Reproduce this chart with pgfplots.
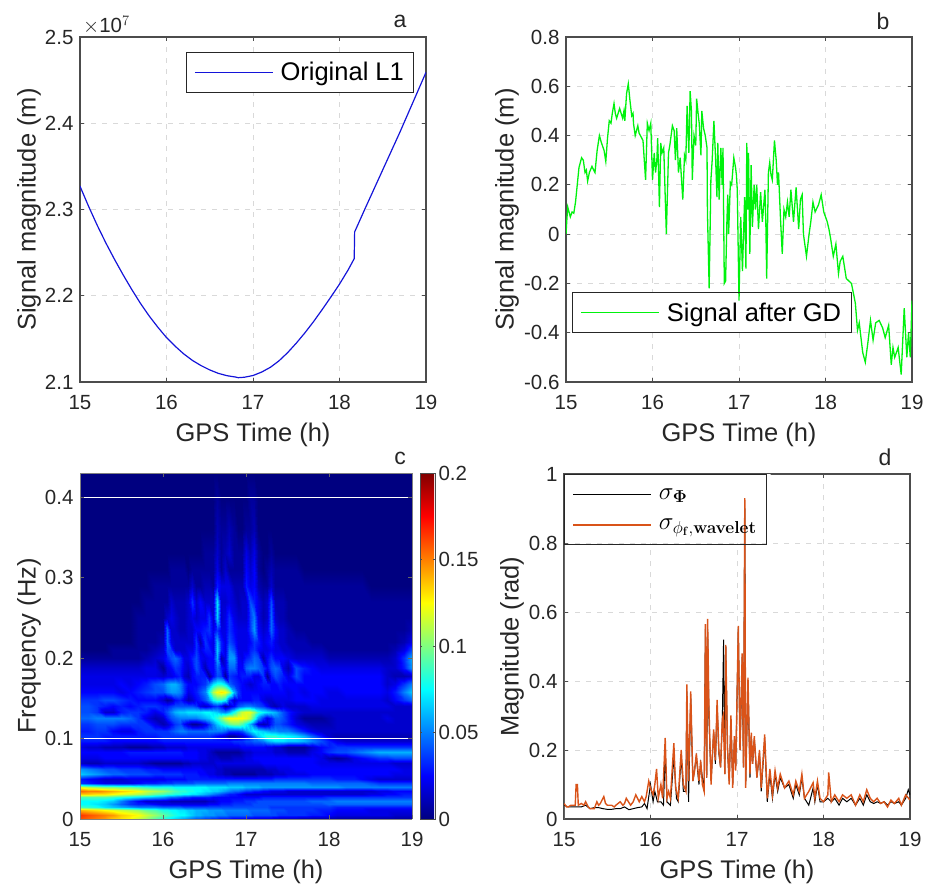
\documentclass[border=0pt]{standalone}
\usepackage[no-math]{fontspec}
\usepackage{pgfplots}
\usepackage{pgfplotstable}
\pgfplotsset{compat=1.18}
\setmainfont{Liberation Sans}
\definecolor{txt}{gray}{0.15}
\definecolor{frame}{gray}{0.3}
\definecolor{mlorange}{rgb}{0.85,0.325,0.098}
\newcommand\ticksize{\fontsize{20.5}{24}\selectfont}
\newcommand\labsize{\fontsize{25.5}{29}\selectfont}
\newcommand\panelsize{\fontsize{23}{26}\selectfont}
% wavelet power in units of 0.005; rows = frequency (Hz), columns = GPS time (h)
\pgfplotstableread{
y 15 15.1 15.2 15.3 15.4 15.5 15.6 15.7 15.8 15.9 16 16.05 16.1 16.15 16.2 16.25 16.3 16.35 16.4 16.45 16.5 16.55 16.6 16.65 16.7 16.75 16.8 16.85 16.9 16.95 17 17.05 17.1 17.15 17.2 17.25 17.3 17.35 17.4 17.45 17.5 17.6 17.7 17.8 17.9 18 18.1 18.2 18.3 18.4 18.5 18.6 18.7 18.8 18.9 19
0     32 31 30 29 27 26 25 23 21 18  16 15 14 13 12 11 10 9 8 8  7 7 6 6 5 5 5 4 4 4  4 3 3 3 3 3 3 2 2 2  2 2 1 1 1 1 1 1 1 1 1 1 1 1 1 1
0.005 33 32 31 30 29 27 26 25 23 21  19 18 17 16 15 15 14 13 12 12  11 11 11 10 10 10 9 9 9 9  9 9 8 8 8 8 8 8 7 7  7 7 7 6 6 5 4 4 4 4 4 4 4 3 3 3
0.011 28 27 26 25 24 23 22 21 19 18  16 16 15 15 14 14 13 13 12 12  12 11 11 11 11 10 10 10 10 10  10 9 9 9 9 9 8 8 8 8  7 7 7 7 6 6 5 5 5 5 4 4 4 4 4 4
0.015 18 17 16 14 13 12 11 10 10 10  9 9 9 9 9 8 8 8 8 8  8 8 8 8 8 8 8 8 8 8  8 8 8 8 8 8 7 7 7 7  7 7 7 7 7 7 6 6 6 6 6 6 6 6 6 6
0.019 15 15 14 13 11 9 7 6 6 5  4 4 4 4 4 4 4 4 4 4  4 5 5 5 6 6 6 7 7 7  7 7 8 8 8 8 8 8 8 8  8 8 8 8 8 9 9 9 9 9 9 9 9 9 9 9
0.023 15 15 15 14 13 10 7 5 3 3  3 3 2 2 2 2 2 2 2 2  2 3 3 4 5 5 5 6 6 6  7 7 7 8 8 8 8 8 8 8  8 8 8 9 9 9 10 10 10 10 10 10 10 10 10 10
0.027 18 18 18 18 17 16 15 14 13 12  11 10 9 9 8 7 7 6 6 6  6 6 5 5 5 5 5 5 5 5  5 5 5 5 6 6 6 6 6 6  6 6 6 6 6 7 7 7 7 7 7 7 7 7 7 7
0.031 27 27 26 26 25 24 23 22 21 19  18 17 17 16 16 15 15 14 14 13  12 11 10 9 8 7 6 6 5 4  3 3 3 3 3 3 3 3 3 3  3 3 3 3 3 3 3 3 3 3 4 4 5 5 6 6
0.035 31 30 30 29 28 27 26 25 23 22  21 20 19 18 17 17 16 16 15 15  14 14 13 13 12 11 10 9 9 8  7 7 6 6 5 5 4 4 4 4  3 3 3 3 3 3 3 3 3 3 3 4 4 5 5 5
0.04 24 22 21 20 20 19 19 18 17 16  16 16 16 15 15 15 15 15 15 15  15 14 14 14 14 14 13 13 13 13  12 12 12 12 11 11 11 11 11 11  11 11 11 11 11 11 11 10 10 10 10 10 10 10 10 10
0.045 7 6 5 4 4 4 4 5 6 6  7 7 7 8 8 8 8 8 9 9  9 9 9 9 9 9 10 10 10 10  10 10 10 10 10 10 10 10 10 10  10 10 10 9 9 9 9 9 9 9 8 7 7 7 7 7
0.05 6 5 4 3 3 3 4 4 4 4  4 5 5 5 5 5 6 6 6 6  6 6 6 6 6 6 6 6 6 6  6 6 6 6 6 6 6 7 7 7  7 7 7 7 7 7 6 6 6 5 4 3 3 3 3 3
0.056 13 12 11 10 9 9 8 8 8 7  7 7 7 7 7 6 6 6 6 5  5 4 4 3 3 2 2 1 1 1  1 1 1 2 2 2 2 3 3 3  4 4 4 5 5 5 5 5 5 5 5 5 5 4 4 4
0.062 11 10 9 8 8 7 7 7 6 6  5 5 5 5 5 5 5 5 5 5  4 4 4 3 3 2 2 2 2 2  2 2 2 2 2 3 3 3 4 4  4 5 5 5 5 5 5 5 5 5 5 5 5 5 4 4
0.069 3 2 2 3 3 3 3 3 2 1  1 1 1 1 1 2 2 3 3 3  3 3 3 4 4 4 4 4 4 4  4 4 4 4 5 5 5 5 5 5  5 5 5 5 4 4 4 4 4 4 4 4 4 3 3 3
0.076 4 4 4 5 5 5 5 5 5 5  5 5 5 5 5 5 5 5 5 4  4 3 3 3 2 2 2 3 3 3  4 4 5 5 5 5 5 5 5 5  5 5 5 5 4 2 1 2 4 5 6 7 7 8 8 8
0.083 5 5 5 5 5 5 6 6 6 6  6 6 6 6 6 5 5 5 5 4  4 3 2 1 1 1 1 1 1 2  3 3 4 4 4 4 4 3 3 3  2 2 2 4 5 7 8 8 9 10 11 12 12 12 12 12
0.09 4 3 3 2 2 2 1 1 1 2  2 3 3 3 3 3 4 4 4 4  4 4 4 4 4 4 4 4 4 5  5 5 5 5 5 4 4 3 3 2  1 1 1 3 5 6 7 7 7 7 7 7 7 7 7 7
0.097 6 6 6 6 5 5 5 5 5 5  6 6 6 6 6 6 6 6 6 6  6 6 6 6 6 6 6 7 7 7  8 8 9 9 10 12 13 14 14 14  13 13 12 10 8 6 4 3 3 3 3 3 3 3 3 3
0.103 7 7 7 6 6 6 6 6 6 6  7 7 7 7 7 7 7 7 7 7  7 7 6 5 4 3 1 1 2 3  5 7 10 13 15 17 17 17 16 16  15 14 12 9 6 3 2 2 2 2 2 2 2 2 2 2
0.11 6 6 7 7 5 4 4 6 7 7  7 7 8 9 10 10 9 9 9 9  9 10 10 10 10 9 7 7 7 8  11 13 15 14 13 12 11 11 10 10  10 8 6 4 3 3 3 3 3 3 3 3 3 3 3 3
0.118 7 7 8 8 8 7 7 7 7 4  2 3 5 7 8 5 3 1 1 2  4 7 10 13 15 17 19 20 20 18  15 12 8 3 2 3 6 8 8 7  6 4 3 2 2 2 3 3 3 3 3 3 3 3 3 3
0.125 9 9 10 10 10 10 9 7 4 2  3 6 8 9 10 10 10 10 10 11  12 13 15 17 20 23 25 25 25 25  24 22 17 11 7 4 6 9 9 8  6 3 1 1 1 2 3 3 3 3 3 3 4 3 3 3
0.133 8 8 7 3 3 6 7 7 6 4  6 8 10 12 13 13 14 14 14 14  15 15 14 13 11 10 12 16 20 23  24 24 21 17 15 14 13 12 10 8  6 4 3 3 3 3 3 3 3 3 3 3 3 3 3 3
0.14 8 8 7 6 5 6 5 6 7 7  6 6 7 8 8 8 8 8 7 4  3 4 6 7 5 1 3 5 8 9  10 10 9 8 7 5 3 2 3 4  3 3 3 4 4 4 4 4 4 4 4 4 4 3 3 3
0.148 7 7 7 8 8 7 6 5 5 5  3 1 2 5 6 4 2 3 5 6  8 11 15 17 17 15 7 3 5 5  5 5 6 6 4 3 3 4 4 4  4 5 5 5 4 4 4 4 4 4 4 4 3 5 7 9
0.158 5 5 5 5 5 4 5 6 7 8  8 10 11 11 10 7 4 5 6 8  10 16 22 25 26 25 21 12 7 5  5 5 5 5 5 5 5 5 5 5  4 5 4 5 5 4 4 5 5 5 5 5 4 6 10 13
0.168 4 4 4 4 4 5 4 5 6 8  9 11 12 12 10 7 5 5 5 6  7 10 14 16 16 14 9 7 6 5  4 3 4 5 6 6 5 5 6 5  5 5 5 5 5 5 5 5 5 5 5 5 3 4 7 10
0.178 4 4 4 4 4 4 4 4 4 4  3 4 4 5 6 3 2 5 6 6  6 1 5 8 7 1 7 6 5 6  6 6 4 4 7 1 6 8 7 6  4 8 5 5 5 5 5 5 5 5 5 5 3 2 2 3
0.188 3 3 3 3 3 3 3 3 4 4  1 4 5 7 6 4 3 5 8 6  2 5 5 9 6 4 9 9 5 5  9 10 10 9 7 5 8 9 8 4  2 8 6 5 4 4 4 4 4 4 4 4 3 3 6 11
0.2 1 1 1 1 1 1 1 1 2 3  4 6 8 9 7 4 4 6 8 5  4 5 5 12 2 4 11 11 5 4  6 7 9 8 2 5 7 5 5 5  4 3 3 3 3 2 2 2 2 2 2 2 2 3 7 12
0.21 0 0 0 0 1 1 1 1 1 2  3 8 7 3 3 3 4 4 7 4  6 6 4 13 6 4 10 8 4 4  4 6 7 5 4 4 5 4 4 3  3 2 2 2 2 1 1 1 1 1 1 1 1 2 4 8
0.22 0 0 0 0 0 0 0 1 1 1  2 9 4 3 3 3 3 3 7 2  7 5 4 12 6 4 8 6 4 4  4 5 7 6 4 5 6 4 3 3  2 2 2 1 1 1 1 1 1 1 1 1 1 1 2 4
0.235 0 0 0 0 0 0 0 1 1 1  1 9 3 3 2 2 3 3 5 5  6 7 4 7 4 4 7 5 4 4  4 7 11 5 3 4 9 5 3 3  2 1 1 1 1 1 1 1 1 1 1 1 1 1 1 2
0.25 0 0 0 0 0 0 0 1 1 1  1 3 4 3 2 2 3 4 3 4  4 7 3 13 3 4 7 4 3 3  3 7 10 4 2 3 9 3 2 2  1 1 1 1 1 1 1 1 1 1 1 1 1 1 1 1
0.27 0 0 0 0 0 0 0 0 1 1  1 1 3 2 2 2 3 7 3 5  3 3 3 14 3 3 4 3 2 3  3 8 6 4 2 3 8 2 2 2  1 1 1 1 1 1 1 1 1 1 1 1 1 1 1 1
0.29 0 0 0 0 0 0 0 0 0 1  1 1 1 1 1 1 1 3 1 1  2 2 1 6 4 4 4 2 2 2  6 4 5 2 1 1 3 1 1 1  1 1 1 1 1 1 1 1 1 1 0 0 0 0 0 0
0.31 0 0 0 0 0 0 0 0 0 0  0 0 1 1 1 1 0 1 1 1  1 1 1 4 1 3 1 1 1 1  5 3 5 1 0 1 2 1 1 1  1 1 0 0 0 0 0 0 0 0 0 0 0 0 0 0
0.33 0 0 0 0 0 0 0 0 0 0  0 0 0 0 0 0 0 0 0 0  1 1 1 3 1 2 3 1 1 1  4 2 4 1 0 0 1 0 0 0  0 0 0 0 0 0 0 0 0 0 0 0 0 0 0 0
0.36 0 0 0 0 0 0 0 0 0 0  0 0 0 0 0 0 0 0 0 0  0 0 0 2 1 1 2 1 0 0  1 1 2 0 0 0 0 0 0 0  0 0 0 0 0 0 0 0 0 0 0 0 0 0 0 0
0.4 0 0 0 0 0 0 0 0 0 0  0 0 0 0 0 0 0 0 0 0  0 0 0 1 0 0 0 0 0 0  0 1 1 0 0 0 0 0 0 0  0 0 0 0 0 0 0 0 0 0 0 0 0 0 0 0
0.43 0 0 0 0 0 0 0 0 0 0  0 0 0 0 0 0 0 0 0 0  0 0 0 0 0 0 0 0 0 0  0 0 0 0 0 0 0 0 0 0  0 0 0 0 0 0 0 0 0 0 0 0 0 0 0 0
}\heat
\newcommand\heatcoords{}
\pgfplotstablegetrowsof{\heat}\edef\nr{\pgfplotsretval}
\pgfmathtruncatemacro\rlast{\nr-1}
\pgfplotsforeachungrouped \r in {0,...,\rlast}{%
 \pgfplotstablegetelem{\r}{y}\of\heat \edef\yy{\pgfplotsretval}%
 \pgfplotsforeachungrouped \xx in {15,15.1,15.2,15.3,15.4,15.5,15.6,15.7,15.8,15.9,16,16.05,16.1,16.15,16.2,16.25,16.3,16.35,16.4,16.45,16.5,16.55,16.6,16.65,16.7,16.75,16.8,16.85,16.9,16.95,17,17.05,17.1,17.15,17.2,17.25,17.3,17.35,17.4,17.45,17.5,17.6,17.7,17.8,17.9,18,18.1,18.2,18.3,18.4,18.5,18.6,18.7,18.8,18.9,19}{%
  \pgfplotstablegetelem{\r}{\xx}\of\heat \edef\zz{\pgfplotsretval}%
  \xdef\heatcoords{\heatcoords (\xx,\yy,\zz)}%
 }%
}
\pgfplotsset{
 myax/.style={
  scale only axis,
  xmin=15,xmax=19,
  xtick={15,16,17,18,19},xticklabels={15,16,17,18,19},
  tick align=inside,major tick length=4pt,minor tick num=0,
  axis line style={draw=frame,line width=1.1pt},
  tick style={draw=frame,line width=1pt},
  tick label style={font=\ticksize,text=txt},
  xticklabel shift=9.5pt,yticklabel shift=3pt,
  clip=true,
  xlabel={GPS Time (h)},
  label style={font=\labsize,text=txt},
  xlabel style={at={(axis description cs:0.5,0)},anchor=center,yshift=-53pt},
  ylabel style={at={(axis description cs:0,0.5)},anchor=center,yshift=#1pt},
 },
 mygrid/.style={grid=major,major grid style={dash pattern=on 5pt off 6pt,draw=black!15,line width=0.9pt}},
 myleg/.style={
  legend cell align=left,
  legend style={font=\labsize,text=black,draw=black!85,line width=1pt,inner xsep=8pt,inner ysep=8pt},
  legend image code/.code={\draw[##1] (0pt,0pt) -- (78pt,0pt);\path (83pt,0pt);},
 },
}
\begin{document}
\begin{tikzpicture}
\useasboundingbox (0pt,0pt) rectangle (933pt,884pt);
% panel a
\begin{axis}[myax=51,mygrid,myleg,at={(80pt,502pt)},width=346pt,height=345pt,
 ymin=2.1,ymax=2.5,ytick={2.1,2.2,2.3,2.4,2.5},yticklabels={2.1,2.2,2.3,2.4,2.5},
 ylabel={Signal magnitude (m)},
 legend style={at={(0.306,0.9565)},anchor=north west,fill=white}]
\addplot[color={rgb,1:red,0.08;green,0.08;blue,0.85},line width=1.2pt] coordinates {
(15,2.327)(15.1,2.3035)(15.2,2.2815)(15.3,2.261)(15.4,2.242)(15.5,2.224)(15.6,2.207)(15.7,2.191)(15.8,2.1765)(15.9,2.1635)
(16,2.1515)(16.1,2.1415)(16.2,2.1325)(16.3,2.125)(16.4,2.119)(16.5,2.114)(16.6,2.110)(16.7,2.1073)(16.8,2.1057)(16.83,2.105)(16.9,2.1055)
(17,2.1075)(17.1,2.1115)(17.2,2.117)(17.3,2.1245)(17.4,2.134)(17.5,2.145)(17.6,2.157)(17.7,2.17)(17.8,2.184)(17.9,2.1985)
(18,2.2135)(18.1,2.23)(18.17,2.243)(18.175,2.274)(18.3,2.302)(18.4,2.324)(18.5,2.346)(18.6,2.368)(18.7,2.39)(18.8,2.413)(18.9,2.436)(19,2.459)};
\addlegendentry{Original L1}
\end{axis}
% panel b
\begin{axis}[myax=59,mygrid,myleg,at={(566pt,502pt)},width=346pt,height=345pt,
 ymin=-0.6,ymax=0.8,ytick={-0.6,-0.4,-0.2,0,0.2,0.4,0.6,0.8},yticklabels={-0.6,-0.4,-0.2,0,0.2,0.4,0.6,0.8},
 ylabel={Signal magnitude (m)},
 legend style={at={(0.0175,0.2607)},anchor=north west,fill=none}]
\addplot[draw=none,fill=white,forget plot] coordinates {(15.07,-0.235)(18.28,-0.235)(18.28,-0.4)(15.07,-0.4)} \closedcycle;
\addplot[color={rgb,1:red,0;green,0.95;blue,0.05},line width=1.3pt] coordinates {
(15,0)(15.01,.06)(15.02,.11)(15.035,.09)(15.05,.07)(15.07,.09)(15.09,.085)(15.11,.13)(15.13,.2)(15.15,.27)(15.18,.31)(15.2,.3)(15.22,.25)(15.235,.26)(15.25,.215)(15.27,.25)(15.3,.275)(15.32,.26)(15.335,.25)(15.36,.34)(15.386,.40)(15.41,.37)(15.44,.34)(15.46,.295)(15.48,.39)(15.5,.46)(15.52,.45)(15.535,.49)(15.555,.53)(15.57,.49)(15.585,.47)(15.62,.51)(15.655,.47)(15.67,.50)(15.68,.46)(15.70,.57)(15.72,.61)(15.74,.54)(15.76,.48)(15.775,.49)(15.78,.45)(15.80,.40)(15.83,.44)(15.845,.41)(15.86,.40)(15.89,.38)(15.92,.22)(15.94,.45)(15.96,.42)(15.98,.45)(16.0,.22)(16.02,.33)(16.035,.25)(16.05,.3)(16.06,.39)(16.08,.11)(16.095,.37)(16.11,.33)(16.13,.35)(16.16,0)(16.185,.33)(16.2,.36)(16.23,.44)(16.25,.42)(16.265,.30)(16.28,.43)(16.30,.25)(16.32,.31)(16.35,.14)(16.37,.32)(16.385,.3)(16.40,.52)(16.42,.33)(16.435,.58)(16.45,.50)(16.46,.22)(16.48,.4)(16.5,.36)(16.51,.55)(16.53,.48)(16.54,.45)(16.56,.32)(16.57,.5)(16.59,.43)(16.61,.40)(16.63,.35)(16.635,.09)(16.655,-.22)(16.675,.22)(16.69,.30)(16.71,.46)(16.73,.30)(16.745,.15)(16.755,.37)(16.77,.14)(16.79,.35)(16.805,.20)(16.815,.35)(16.83,-.2)(16.845,-.19)(16.86,.05)(16.87,.16)(16.88,0)(16.9,.21)(16.915,.2)(16.94,.31)(16.96,.27)(16.97,.24)(16.98,.18)(17.0,-.27)(17.02,.07)(17.04,-.15)(17.065,.15)(17.08,-.14)(17.09,.37)(17.10,.1)(17.11,.33)(17.125,-.08)(17.14,.28)(17.155,.03)(17.175,.2)(17.19,.1)(17.205,.2)(17.225,.02)(17.25,.17)(17.27,.05)(17.30,.18)(17.31,.05)(17.32,-.18)(17.34,.25)(17.355,.29)(17.37,.24)(17.385,.22)(17.41,.38)(17.43,.30)(17.445,.2)(17.457,.25)(17.48,.06)(17.50,-.08)(17.52,.1)(17.54,.07)(17.56,.13)(17.58,.07)(17.6,.18)(17.63,.05)(17.66,.19)(17.69,.02)(17.71,.14)(17.73,.16)(17.745,0)(17.78,-.09)(17.81,0)(17.83,.05)(17.855,.13)(17.88,.09)(17.92,.12)(17.95,.16)(17.98,.09)(18.02,.05)(18.04,.02)(18.06,-.02)(18.09,-.09)(18.12,-.04)(18.15,-.16)(18.17,-.11)(18.2,-.09)(18.24,-.18)(18.27,-.19)(18.3,-.2)(18.345,-.28)(18.37,-.39)(18.39,-.36)(18.43,-.48)(18.46,-.52)(18.49,-.44)(18.52,-.35)(18.55,-.43)(18.58,-.36)(18.62,-.35)(18.66,-.38)(18.69,-.42)(18.73,-.37)(18.76,-.53)(18.78,-.46)(18.8,-.5)(18.84,-.46)(18.875,-.57)(18.91,-.3)(18.94,-.5)(18.96,-.4)(18.98,-.5)(19,-.27)};
\addlegendentry{Signal after GD}
\end{axis}
% panel c
\begin{axis}[myax=51,at={(80pt,65pt)},width=332pt,height=346pt,view={0}{90},
 ymin=0,ymax=0.43,ytick={0,0.1,0.2,0.3,0.4},yticklabels={0,0.1,0.2,0.3,0.4},
 axis line style={draw=black!50,line width=1pt},tick style={draw=black!60,line width=1pt},
 ylabel={Frequency (Hz)},axis on top,
 colormap/jet,point meta min=0,point meta max=40,
 colorbar,
 colorbar style={at={(1.0241,0)},anchor=south west,width=15pt,height=346pt,
  ytick={0,10,20,30,40},yticklabels={0,0.05,0.1,0.15,0.2},yticklabel pos=right,
  tick align=inside,major tick length=2pt,
  axis line style={draw=frame,line width=0.8pt},tick style={draw=frame,line width=0.8pt},
  yticklabel style={font=\ticksize,text=txt}}]
\edef\temp{\noexpand\addplot3[surf,shader=interp,mesh/rows=\nr,mesh/ordering=x varies] coordinates {\heatcoords};}
\temp
\draw[white,line width=1pt] (axis cs:15,0.1,40) -- (axis cs:19,0.1,40);
\draw[white,line width=1pt] (axis cs:15,0.4,40) -- (axis cs:19,0.4,40);
\end{axis}
% panel d
\begin{axis}[myax=52,mygrid,myleg,at={(564pt,65pt)},width=346pt,height=345pt,
 ymin=0,ymax=1,ytick={0,0.2,0.4,0.6,0.8,1},yticklabels={0,0.2,0.4,0.6,0.8,1},
 ylabel={Magnitude (rad)},
 legend style={at={(0,1)},anchor=north west,fill=none,inner xsep=8pt,inner ysep=12pt,row sep=14pt,font=\fontsize{26}{30}\selectfont}]
\addplot[draw=none,fill=white,forget plot] coordinates {(15,0.8)(17.39,0.8)(17.39,1)(15,1)} \closedcycle;
\addplot[black,line width=1pt] coordinates {
(15,.04)(15.05,.035)(15.1,.035)(15.2,.035)(15.25,.04)(15.3,.03)(15.35,.033)(15.4,.033)(15.45,.03)(15.5,.028)(15.55,.028)(15.6,.03)(15.65,.03)(15.7,.035)(15.75,.027)(15.8,.03)(15.85,.033)(15.9,.035)(15.93,.045)(15.96,.03)(16,.1)(16.03,.05)(16.05,.08)(16.08,.05)(16.12,.05)(16.15,.04)(16.17,.2)(16.19,.05)(16.23,.04)(16.27,.18)(16.3,.06)(16.32,.05)(16.355,.18)(16.38,.08)(16.41,.08)(16.42,.37)(16.44,.05)(16.465,.35)(16.49,.11)(16.53,.18)(16.56,.1)(16.58,.16)(16.62,.08)(16.635,.55)(16.65,.12)(16.66,.55)(16.675,.3)(16.7,.11)(16.73,.25)(16.75,.16)(16.77,.33)(16.79,.19)(16.81,.15)(16.83,.28)(16.845,.52)(16.86,.13)(16.87,.5)(16.89,.2)(16.91,.11)(16.93,.29)(16.95,.1)(16.97,.23)(16.985,.15)(17.015,.55)(17.035,.2)(17.06,.47)(17.075,.15)(17.09,.9)(17.1,.1)(17.127,.4)(17.15,.12)(17.165,.24)(17.18,.16)(17.2,.23)(17.23,.12)(17.26,.19)(17.28,.08)(17.32,.23)(17.35,.05)(17.38,.13)(17.41,.06)(17.44,.13)(17.47,.08)(17.5,.12)(17.55,.09)(17.6,.1)(17.65,.06)(17.68,.1)(17.72,.07)(17.75,.12)(17.78,.06)(17.83,.04)(17.88,.09)(17.9,.05)(17.93,.1)(17.96,.05)(18,.05)(18.05,.06)(18.09,.05)(18.13,.06)(18.18,.04)(18.22,.06)(18.27,.05)(18.32,.06)(18.37,.04)(18.42,.06)(18.46,.04)(18.5,.07)(18.54,.05)(18.58,.045)(18.62,.05)(18.66,.045)(18.7,.05)(18.74,.04)(18.78,.05)(18.82,.045)(18.87,.05)(18.9,.04)(18.95,.06)(18.98,.085)(19,.07)};
\addlegendentry{$\sigma_{\mathbf{\Phi}}$}
\addplot[color=mlorange,line width=1.4pt] coordinates {
(15,.045)(15.03,.035)(15.05,.035)(15.08,.04)(15.1,.04)(15.13,.04)(15.14,.10)(15.155,.10)(15.165,.04)(15.2,.045)(15.23,.04)(15.25,.05)(15.28,.035)(15.3,.03)(15.35,.03)(15.38,.05)(15.4,.04)(15.42,.045)(15.46,.065)(15.48,.045)(15.5,.04)(15.55,.04)(15.58,.035)(15.6,.04)(15.65,.05)(15.68,.04)(15.7,.045)(15.72,.06)(15.77,.04)(15.8,.05)(15.83,.07)(15.87,.05)(15.9,.065)(15.93,.05)(15.95,.065)(15.98,.11)(16,.09)(16.03,.07)(16.05,.10)(16.07,.145)(16.09,.06)(16.12,.10)(16.14,.06)(16.17,.235)(16.19,.06)(16.21,.08)(16.23,.06)(16.27,.22)(16.29,.09)(16.32,.06)(16.355,.20)(16.38,.10)(16.41,.08)(16.42,.39)(16.44,.11)(16.465,.37)(16.49,.11)(16.51,.14)(16.53,.19)(16.56,.11)(16.58,.17)(16.6,.1)(16.62,.08)(16.635,.565)(16.65,.12)(16.66,.58)(16.675,.33)(16.7,.10)(16.73,.26)(16.75,.17)(16.77,.345)(16.79,.2)(16.81,.15)(16.83,.29)(16.84,.3)(16.86,.13)(16.87,.505)(16.89,.21)(16.91,.10)(16.93,.30)(16.95,.09)(16.97,.24)(16.985,.14)(17.015,.56)(17.035,.2)(17.06,.48)(17.075,.15)(17.09,.93)(17.10,.09)(17.127,.41)(17.15,.13)(17.165,.25)(17.18,.16)(17.2,.24)(17.23,.12)(17.26,.2)(17.28,.09)(17.32,.245)(17.35,.06)(17.38,.145)(17.41,.07)(17.44,.14)(17.47,.09)(17.5,.13)(17.55,.09)(17.6,.11)(17.65,.07)(17.68,.11)(17.72,.08)(17.75,.13)(17.78,.06)(17.83,.08)(17.88,.105)(17.9,.06)(17.93,.11)(17.96,.06)(18,.05)(18.05,.07)(18.06,.135)(18.09,.05)(18.13,.07)(18.18,.05)(18.22,.07)(18.27,.06)(18.32,.07)(18.37,.04)(18.42,.07)(18.46,.05)(18.5,.085)(18.54,.06)(18.58,.05)(18.62,.06)(18.66,.045)(18.7,.05)(18.74,.035)(18.78,.055)(18.82,.045)(18.87,.06)(18.9,.04)(18.95,.07)(19,.055)};
\addlegendentry{$\sigma_{\phi_{\mathbf{f}},\mathbf{wavelet}}$}
\end{axis}
\node[font=\ticksize,text=txt,anchor=west,inner sep=0pt] at (83pt,859pt) {$\times$10$^{7}$};
\node[font=\panelsize,text=txt] at (400pt,863pt) {a};
\node[font=\panelsize,text=txt] at (883pt,863pt) {b};
\node[font=\panelsize,text=txt] at (400pt,426pt) {c};
\node[font=\panelsize,text=txt] at (885pt,427pt) {d};
\end{tikzpicture}
\end{document}
